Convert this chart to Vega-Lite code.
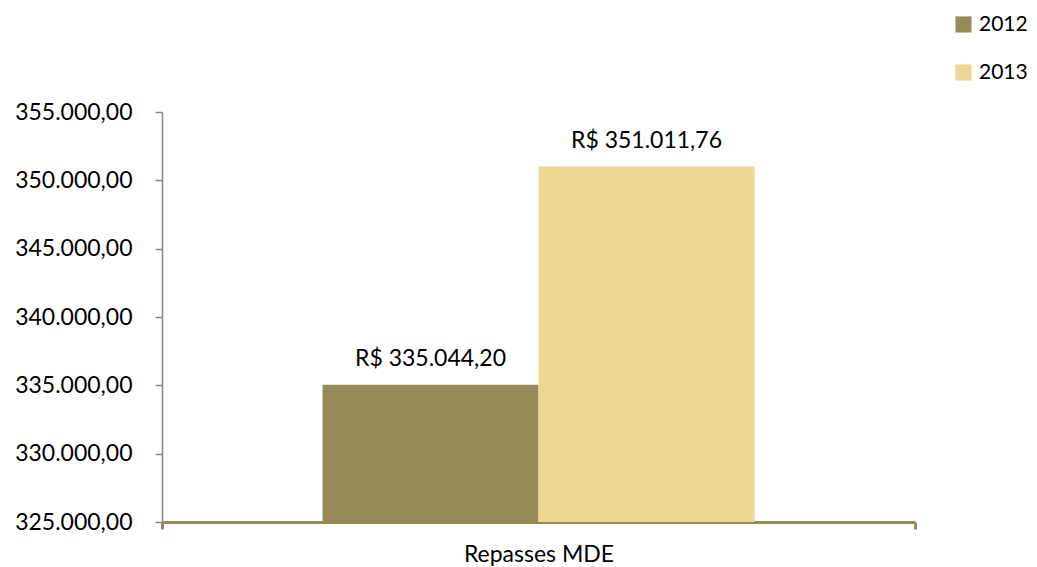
{
  "$schema": "https://vega.github.io/schema/vega-lite/v6.json",
  "width": 753,
  "height": 410,
  "autosize": {"type": "none"},
  "padding": {"left": 162, "top": 112, "right": 122, "bottom": 45},
  "background": "white",
  "config": {
    "view": {"stroke": null},
    "locale": {"number": {"decimal": ",", "thousands": ".", "grouping": [3], "currency": ["R$ ", ""]}},
    "font": "Lato"
  },
  "data": {"values": [
    {"category": "Repasses MDE", "year": "2012", "value": 335044.20},
    {"category": "Repasses MDE", "year": "2013", "value": 351011.76}
  ]},
  "encoding": {
    "x": {
      "field": "category", "type": "nominal",
      "scale": {"paddingInner": 0, "paddingOuter": 0},
      "axis": {
        "title": null, "labelAngle": 0, "tickBand": "extent",
        "domainColor": "#968B55", "domainWidth": 3,
        "tickColor": "#968B55", "tickWidth": 3, "tickSize": 7,
        "labelFont": "Lato", "labelFontSize": 23, "labelColor": "#000000",
        "labelPadding": 14
      }
    },
    "xOffset": {"field": "year", "type": "nominal", "scale": {"paddingInner": 0, "paddingOuter": 0.743}},
    "y": {
      "field": "value", "type": "quantitative",
      "scale": {"domain": [325000, 355000], "zero": false, "nice": false},
      "axis": {
        "title": null, "values": [325000, 330000, 335000, 340000, 345000, 350000, 355000],
        "format": ",.2f", "grid": false,
        "domainColor": "#868686", "domainWidth": 1.5,
        "tickColor": "#868686", "tickWidth": 1.5, "tickSize": 7,
        "labelFont": "Lato", "labelFontSize": 23, "labelColor": "#000000",
        "labelPadding": 23
      }
    }
  },
  "layer": [
    {
      "mark": {"type": "bar"},
      "encoding": {
        "y2": {"datum": 325000},
        "color": {
          "field": "year", "type": "nominal",
          "scale": {"domain": ["2012", "2013"], "range": ["#968B55", "#EDD593"]},
          "legend": {
            "title": null, "orient": "none", "legendX": 791, "legendY": -98,
            "symbolType": "square", "symbolSize": 260, "symbolStrokeWidth": 0,
            "labelFont": "Lato", "labelFontSize": 21, "labelColor": "#000000",
            "labelOffset": 5, "rowPadding": 26
          }
        }
      }
    },
    {
      "mark": {"type": "text", "baseline": "alphabetic", "dy": -19, "font": "Lato", "fontSize": 23, "color": "#000000"},
      "encoding": {
        "text": {"field": "value", "type": "quantitative", "format": "$,.2f"}
      }
    }
  ]
}
